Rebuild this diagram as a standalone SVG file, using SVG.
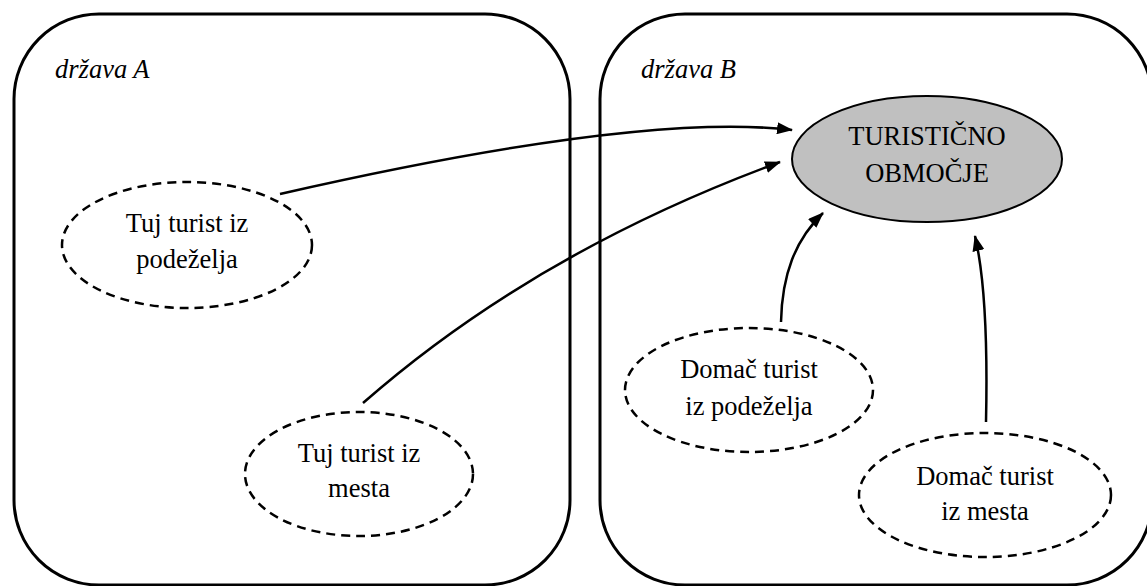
<svg xmlns="http://www.w3.org/2000/svg" width="1147" height="586" viewBox="0 0 1147 586">
  <style>
    .region { fill: none; stroke: #000; stroke-width: 3; }
    .tourist { fill: #fff; stroke: #000; stroke-width: 2.5; stroke-dasharray: 9 6; }
    .area { fill: #c0c0c0; stroke: #000; stroke-width: 2; }
    .flow { fill: none; stroke: #000; stroke-width: 2.5; marker-end: url(#arrow); }
    .t { font-size: 26.5px; fill: #000; text-anchor: middle; }
    .label { font-style: italic; text-anchor: start; }
  </style>
  <defs>
    <marker id="arrow" viewBox="0 0 16 12" refX="15" refY="6" markerWidth="16" markerHeight="12" markerUnits="userSpaceOnUse" orient="auto">
      <path d="M0,0 L16,6 L0,12 Z" fill="#000"/>
    </marker>
  </defs>

  <g font-family="Liberation Serif, DejaVu Serif, serif">
  <!-- country regions -->
  <g id="country-a">
    <rect class="region" x="14" y="14" width="556" height="571" rx="85" ry="85"/>
    <text class="t label" x="55" y="78">država A</text>
  </g>
  <g id="country-b">
    <rect class="region" x="600" y="14" width="552" height="571" rx="85" ry="85"/>
    <text class="t label" x="641" y="78">država B</text>
  </g>

  <!-- flows into the destination -->
  <g id="connectors">
    <path class="flow" d="M280,194 Q640,112 792,130"/>
    <path class="flow" d="M363,403 Q535,252 780,162"/>
    <path class="flow" d="M781,322 C782,275 795,240 823,213"/>
    <path class="flow" d="M986,422 C988,330 983,270 975,236"/>
  </g>

  <g id="destination">
    <ellipse class="area" cx="927" cy="159" rx="135" ry="63"/>
    <text class="t" x="927" y="145">TURISTIČNO</text>
    <text class="t" x="927" y="182">OBMOČJE</text>
  </g>

  <g id="foreign-rural">
    <ellipse class="tourist" cx="187" cy="245" rx="125" ry="63"/>
    <text class="t" x="187" y="232">Tuj turist iz</text>
    <text class="t" x="187" y="268">podeželja</text>
  </g>

  <g id="foreign-urban">
    <ellipse class="tourist" cx="359" cy="474" rx="114" ry="62"/>
    <text class="t" x="359" y="462">Tuj turist iz</text>
    <text class="t" x="359" y="497">mesta</text>
  </g>

  <g id="domestic-rural">
    <ellipse class="tourist" cx="749" cy="390" rx="124" ry="62"/>
    <text class="t" x="749" y="378">Domač turist</text>
    <text class="t" x="749" y="415">iz podeželja</text>
  </g>

  <g id="domestic-urban">
    <ellipse class="tourist" cx="985" cy="495" rx="126" ry="62"/>
    <text class="t" x="985" y="485">Domač turist</text>
    <text class="t" x="985" y="520">iz mesta</text>
  </g>
  </g>
</svg>
